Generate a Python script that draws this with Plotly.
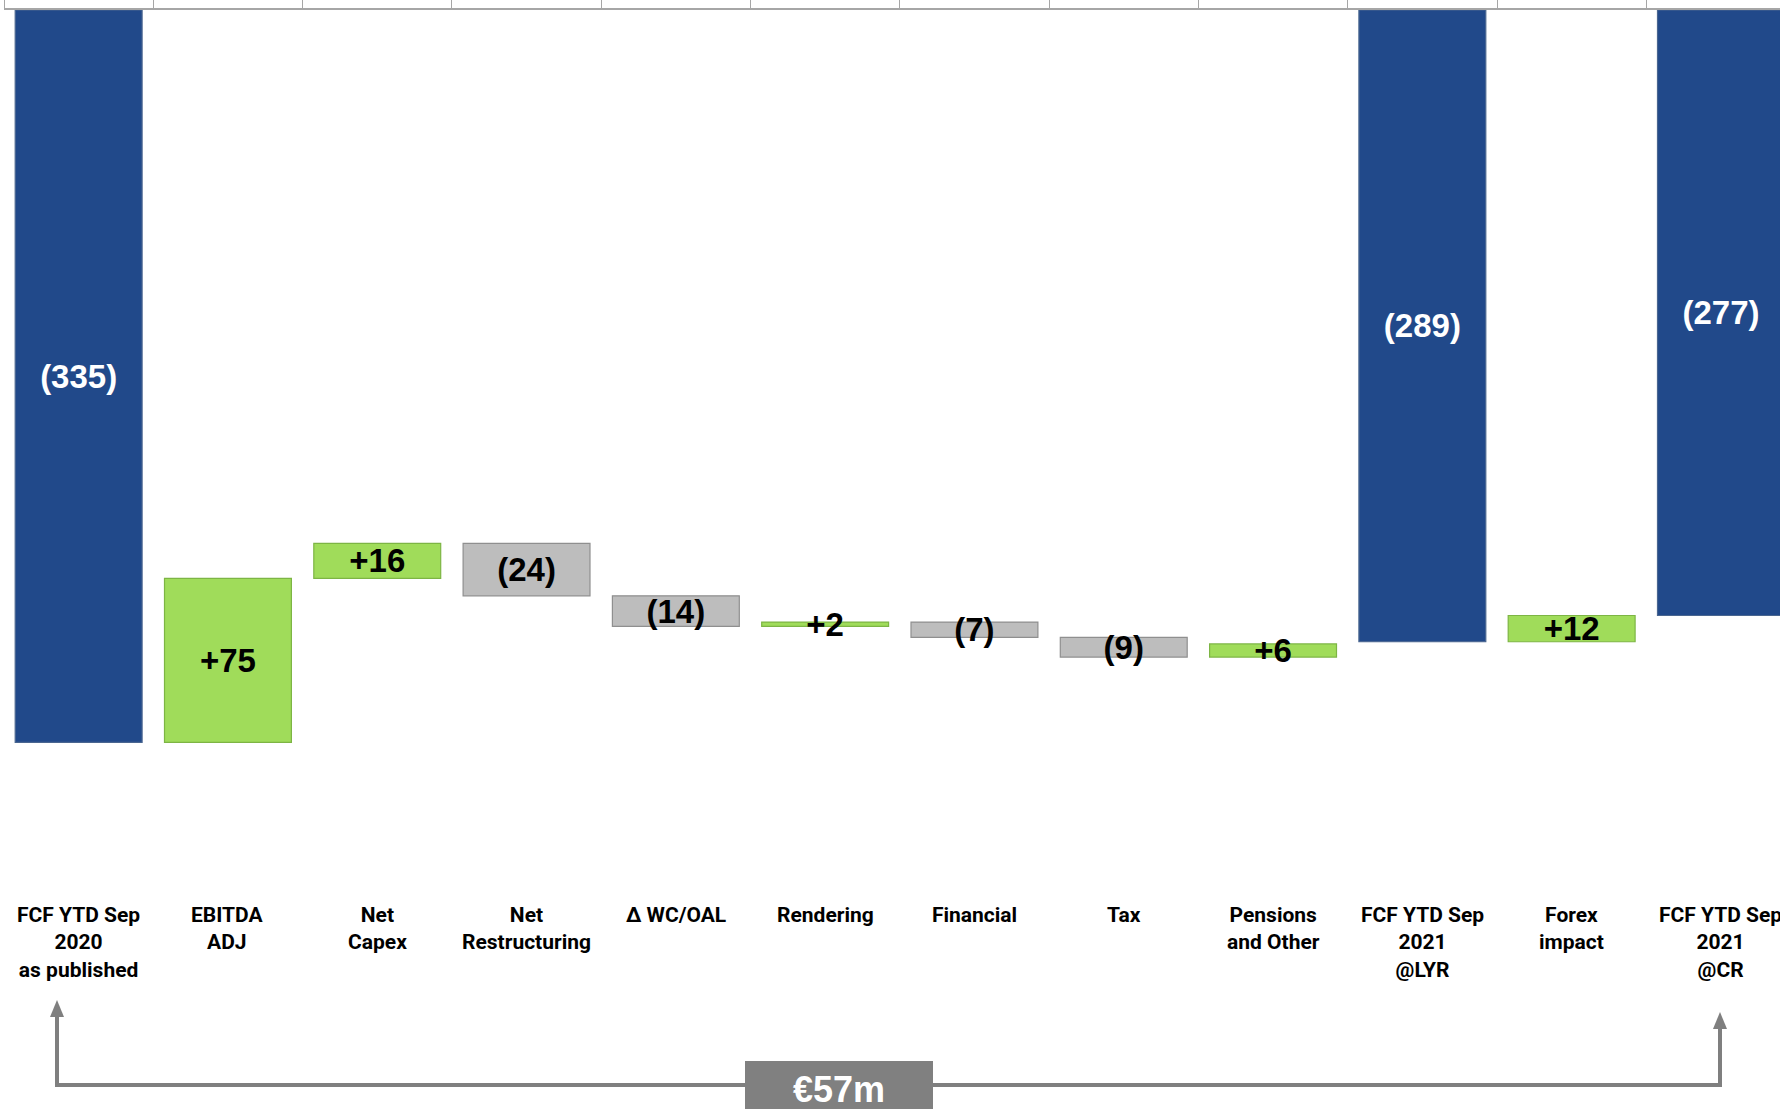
import plotly.graph_objects as go

categories = ["FCF YTD Sep 2020 as published", "EBITDA ADJ", "Net Capex", "Net Restructuring",
              "Δ WC/OAL", "Rendering", "Financial", "Tax", "Pensions and Other",
              "FCF YTD Sep 2021 @LYR", "Forex impact", "FCF YTD Sep 2021 @CR"]
tick_labels = ["FCF YTD Sep<br>2020<br>as published", "EBITDA<br>ADJ", "Net<br>Capex",
               "Net<br>Restructuring", "Δ WC/OAL", "Rendering", "Financial", "Tax",
               "Pensions<br>and Other", "FCF YTD Sep<br>2021<br>@LYR", "Forex<br>impact",
               "FCF YTD Sep<br>2021<br>@CR"]
values = [-335, 75, 16, -24, -14, 2, -7, -9, 6, -289, 12, -277]
measures = ["absolute", "relative", "relative", "relative", "relative", "relative",
            "relative", "relative", "relative", "absolute", "relative", "absolute"]
bracket_label = "€57m"

labels = [f"({abs(v)})" if v < 0 else f"+{v}" for v in values]
text_colors = ["white" if m == "absolute" else "black" for m in measures]

W, H = 1780, 1109
ML, MR, MT, MB = 4, 0, 10, 0
cat_px = 149.3
px_per_unit = 2.186
plot_w = W - ML - MR
plot_h = H - MT - MB

NUM_FONT = "Liberation Sans, Arial, sans-serif"
LBL_FONT = "Roboto, Liberation Sans, sans-serif"

fig = go.Figure(go.Waterfall(
    x=categories, y=values, measure=measures,
    text=labels, textposition="inside", insidetextanchor="middle",
    textangle=0, constraintext="none",
    insidetextfont=dict(family=NUM_FONT, size=33, color=text_colors, weight="bold"),
    increasing=dict(marker=dict(color="#A0DC5A", line=dict(color="#7DB544", width=1.2))),
    decreasing=dict(marker=dict(color="#BDBDBD", line=dict(color="#8F8F8F", width=1.2))),
    totals=dict(marker=dict(color="#21498A", line=dict(color="#4A6690", width=1.2))),
    connector=dict(visible=False),
))

fig.update_layout(
    width=W, height=H,
    margin=dict(l=ML, r=MR, t=MT, b=MB),
    paper_bgcolor="white", plot_bgcolor="white",
    showlegend=False, waterfallgap=0.15,
    xaxis=dict(side="top", showline=True, linecolor="#A6A6A6", linewidth=1.5,
               ticks="outside", ticklen=8, tickcolor="#A6A6A6", tickwidth=1.2,
               tickson="boundaries", showticklabels=False, showgrid=False,
               range=[-0.5, -0.5 + plot_w / cat_px]),
    yaxis=dict(visible=False, range=[-plot_h / px_per_unit, 0], showgrid=False, zeroline=False),
)

for cat, lbl in zip(categories, tick_labels):
    fig.add_annotation(x=cat, y=(H - 901) / plot_h, xref="x", yref="paper",
                       text=f"<b>{lbl}</b>", showarrow=False, yanchor="top", xanchor="center",
                       font=dict(family=LBL_FONT, size=21, color="black"), align="center")

def px2x(px):
    return (px - ML) / plot_w

def py2y(py):
    return (H - py) / plot_h

gray = "#7F7F7F"
lx, rx, hy = 57, 1720, 1085
ltip, rtip = 1000, 1012
head_h, head_w = 17, 7
fig.add_shape(type="path", xref="paper", yref="paper",
              path=(f"M {px2x(lx)},{py2y(ltip + head_h)} L {px2x(lx)},{py2y(hy)} "
                    f"L {px2x(rx)},{py2y(hy)} L {px2x(rx)},{py2y(rtip + head_h)}"),
              line=dict(color=gray, width=4))
for x0, tip in [(lx, ltip), (rx, rtip)]:
    fig.add_shape(type="path", xref="paper", yref="paper",
                  path=(f"M {px2x(x0)},{py2y(tip)} L {px2x(x0 - head_w)},{py2y(tip + head_h)} "
                        f"L {px2x(x0 + head_w)},{py2y(tip + head_h)} Z"),
                  fillcolor=gray, line=dict(color=gray, width=0))

fig.add_shape(type="rect", xref="paper", yref="paper",
              x0=px2x(745), x1=px2x(933), y0=py2y(H + 5), y1=py2y(1061),
              fillcolor="#808080", line=dict(width=0))
fig.add_annotation(x=px2x(839), y=py2y(1089), xref="paper", yref="paper",
                   xanchor="center", yanchor="middle",
                   text=f"<b>{bracket_label}</b>", showarrow=False,
                   font=dict(family=NUM_FONT, size=36, color="white"))

fig.write_html("out.html")
